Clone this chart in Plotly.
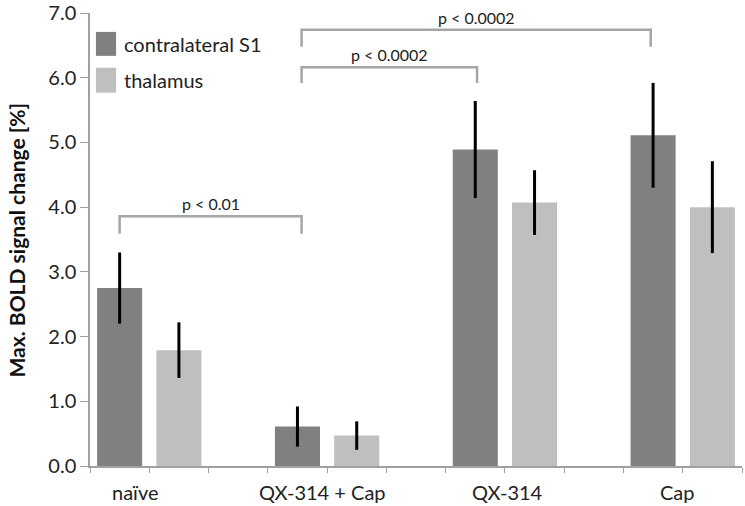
import plotly.graph_objects as go

groups = ["naïve", "QX-314 + Cap", "QX-314", "Cap"]
s1_values = [2.75, 0.61, 4.89, 5.11]
s1_errors = [0.55, 0.31, 0.75, 0.81]
thal_values = [1.79, 0.47, 4.07, 4.00]
thal_errors = [0.43, 0.22, 0.50, 0.71]
series_names = ["contralateral S1", "thalamus"]
y_ticks = [0, 1, 2, 3, 4, 5, 6, 7]

# Comparisons: (left slot, right slot, bracket y, drop y, label)
comparisons = [
    (0.5, 3.57, 3.86, 3.59, "p < 0.01"),
    (3.57, 6.53, 6.16, 5.92, "p < 0.0002"),
    (3.57, 9.46, 6.74, 6.48, "p < 0.0002"),
]

DARK = "#808080"
LIGHT = "#bfbfbf"
BRACKET = "#a6a6a6"
AXIS = "#a0a0a0"
FONT = "Lato, Open Sans, sans-serif"

# each group occupies 3 slots: S1, thalamus, gap
s1_x = [3 * i + 0.5 for i in range(len(groups))]
thal_x = [3 * i + 1.5 for i in range(len(groups))]
label_x = [0.77, 3.93, 7.05, 9.92]

fig = go.Figure()
fig.add_trace(go.Bar(
    x=s1_x, y=s1_values, width=0.76, name=series_names[0],
    marker=dict(color=DARK, line=dict(width=0)),
    error_y=dict(type="data", array=s1_errors, color="black", thickness=3, width=0),
    showlegend=False,
))
fig.add_trace(go.Bar(
    x=thal_x, y=thal_values, width=0.76, name=series_names[1],
    marker=dict(color=LIGHT, line=dict(width=0)),
    error_y=dict(type="data", array=thal_errors, color="black", thickness=3, width=0),
    showlegend=False,
))

shapes = []
annotations = []
for x0, x1, yb, yd, txt in comparisons:
    shapes.append(dict(
        type="path", xref="x", yref="y",
        path=f"M {x0},{yd} L {x0},{yb} L {x1},{yb} L {x1},{yd}",
        line=dict(color=BRACKET, width=2.5),
    ))
    annotations.append(dict(
        x=(x0 + x1) / 2, y=yb, xref="x", yref="y", text=txt, showarrow=False,
        yanchor="bottom", yshift=1, font=dict(family=FONT, size=16, color="#222"),
    ))

# group labels under the axis
for lx, g in zip(label_x, groups):
    annotations.append(dict(
        x=lx, y=0, xref="x", yref="y", text=g, showarrow=False,
        yanchor="middle", yshift=-26, font=dict(family=FONT, size=20, color="#222"),
    ))

# custom legend
legend_items = [(series_names[0], DARK, 6.708, 6.338), (series_names[1], LIGHT, 6.154, 5.769)]
for name, col, ytop, ybot in legend_items:
    shapes.append(dict(type="rect", xref="x", yref="y", x0=0.10, x1=0.44, y0=ybot, y1=ytop,
                       fillcolor=col, line=dict(width=0)))
    annotations.append(dict(
        x=0.54, y=(ytop + ybot) / 2, xref="x", yref="y", text=name, showarrow=False,
        xanchor="left", yanchor="middle", font=dict(family=FONT, size=20, color="#222"),
    ))

# y-axis title
annotations.append(dict(
    x=-0.112, y=0.5, xref="paper", yref="paper", text="<b>Max. BOLD signal change [%]</b>",
    textangle=-90, showarrow=False, xanchor="center", yanchor="middle",
    font=dict(family=FONT, size=21, color="#111"),
))

fig.update_layout(
    width=745, height=506,
    margin=dict(l=90, r=3, t=13, b=40),
    paper_bgcolor="white", plot_bgcolor="white",
    barmode="overlay",
    shapes=shapes, annotations=annotations,
    showlegend=False,
)
fig.update_xaxes(
    range=[0, 11], tickvals=list(range(12)), showticklabels=False, automargin=False,
    ticks="outside", ticklen=5, tickcolor=AXIS, showline=True, linecolor=AXIS, linewidth=1.5,
    showgrid=False, zeroline=False, fixedrange=True,
)
fig.update_yaxes(
    range=[0, 7.0001], tickvals=y_ticks, tickformat=".1f", automargin=False,
    ticklabeloverflow="allow",
    ticks="outside", ticklen=8, tickcolor=AXIS, showline=True, linecolor=AXIS, linewidth=1.5,
    showgrid=False, zeroline=False, tickfont=dict(family=FONT, size=20, color="#222"),
    fixedrange=True,
)

fig.write_html(
    "out.html",
    config={"displayModeBar": False},
    post_script="document.body.style.margin='0';document.body.style.overflow='hidden';",
)
